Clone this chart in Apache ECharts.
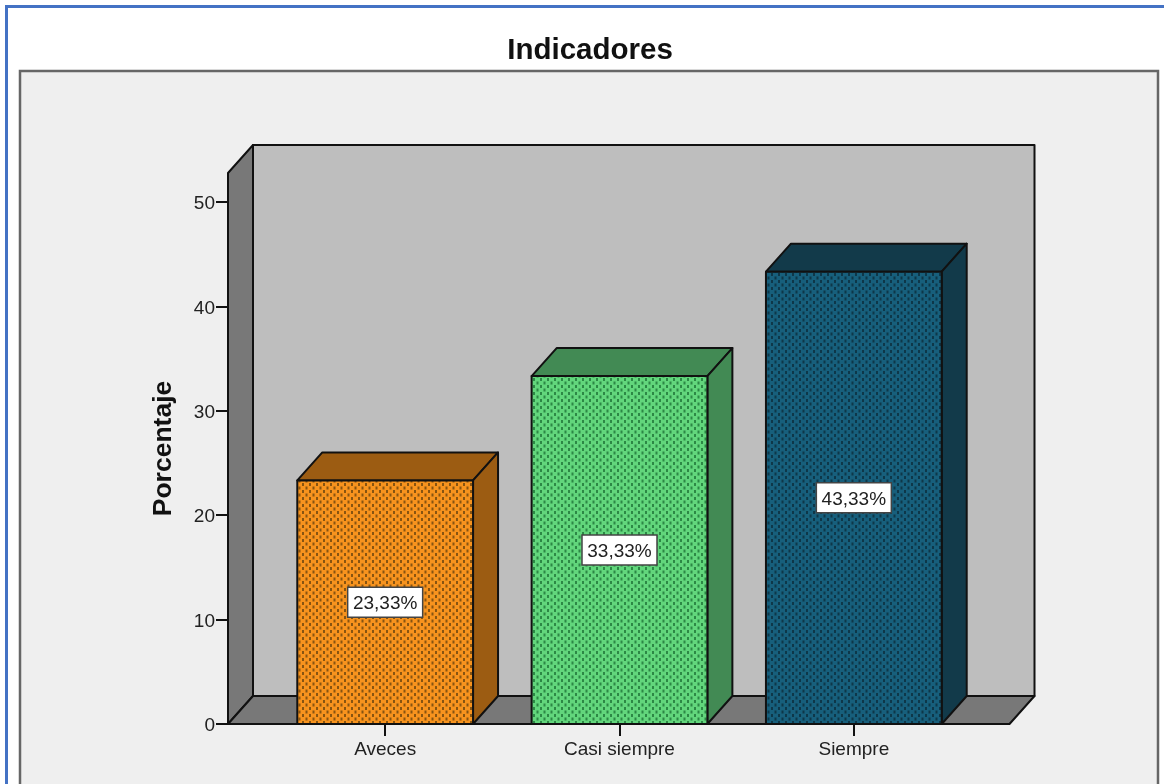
<!DOCTYPE html>
<html lang="es">
<head>
<meta charset="utf-8">
<title>Indicadores</title>
<style>
  html, body { margin: 0; padding: 0; background: #ffffff; }
  #chart { width: 1164px; height: 784px; }
</style>
<script src="https://cdn.jsdelivr.net/npm/echarts@6/dist/echarts.min.js"></script>
</head>
<body>
<div id="chart"></div>
<script>
// Frecuencia de cada respuesta, en porcentaje
const categories = ['Aveces', 'Casi siempre', 'Siempre'];
const values = [23.33, 33.33, 43.33];
const yTicks = [0, 10, 20, 30, 40, 50];
const frontColors = ['#F7931E', '#62D67C', '#175F7C'];
const darkColors = ['#9C5C12', '#428A54', '#123A4A'];
const dotColors = ['#7A4E10', '#27803F', '#0D3344'];

const FONT = '"Liberation Sans", Arial, sans-serif';
const INK = '#111111';
const DEPTH_X = 25, DEPTH_Y = 28;      // profundidad de la caja 3D
const PAD_LEFT = 40, PAD_RIGHT = 38.5; // margen de la caja a cada lado de las categorias
const TAG_W = 75, TAG_H = 30;          // recuadro blanco de la etiqueta

// Trama de puntos al tresbolillo para la cara frontal de las barras
function dotPattern(base, dot) {
  const c = document.createElement('canvas');
  c.width = 7; c.height = 7;
  const g = c.getContext('2d');
  g.fillStyle = base;
  g.fillRect(0, 0, 7, 7);
  g.fillStyle = dot;
  g.globalAlpha = 0.9;
  g.fillRect(1, 0, 2, 3);
  g.fillRect(4.5, 3.5, 2, 3);
  return { image: c, repeat: 'repeat' };
}
const patterns = frontColors.map((c, i) => dotPattern(c, dotColors[i]));

function poly(points, fill) {
  return {
    type: 'polygon',
    shape: { points },
    style: { fill, stroke: INK, lineWidth: 2, lineJoin: 'round' }
  };
}

// Caja de fondo: pared trasera, pared lateral y suelo
function renderBox(params) {
  const s = params.coordSys;
  const l = s.x - PAD_LEFT, r = s.x + s.width + PAD_RIGHT;
  const t = s.y, b = s.y + s.height;
  return {
    type: 'group',
    children: [
      poly([[l + DEPTH_X, t - DEPTH_Y], [r + DEPTH_X, t - DEPTH_Y], [r + DEPTH_X, b - DEPTH_Y], [l + DEPTH_X, b - DEPTH_Y]], '#BEBEBE'),
      poly([[l, t], [l + DEPTH_X, t - DEPTH_Y], [l + DEPTH_X, b - DEPTH_Y], [l, b]], '#787878'),
      poly([[l, b], [l + DEPTH_X, b - DEPTH_Y], [r + DEPTH_X, b - DEPTH_Y], [r, b]], '#787878')
    ]
  };
}

// Barra en prisma con su etiqueta de porcentaje
function renderBar(params, api) {
  const i = api.value(0);
  const v = api.value(1);
  const base = api.coord([i, 0]);
  const top = api.coord([i, v]);
  const w = api.size([1, 0])[0] * 0.75;
  const x0 = base[0] - w / 2, x1 = base[0] + w / 2;
  const yT = top[1], yB = base[1];
  const yMid = (yT + yB) / 2;
  return {
    type: 'group',
    children: [
      poly([[x0, yT], [x0 + DEPTH_X, yT - DEPTH_Y], [x1 + DEPTH_X, yT - DEPTH_Y], [x1, yT]], darkColors[i]),
      poly([[x1, yT], [x1 + DEPTH_X, yT - DEPTH_Y], [x1 + DEPTH_X, yB - DEPTH_Y], [x1, yB]], darkColors[i]),
      poly([[x0, yT], [x1, yT], [x1, yB], [x0, yB]], patterns[i]),
      {
        type: 'rect',
        shape: { x: base[0] - TAG_W / 2, y: yMid - TAG_H / 2, width: TAG_W, height: TAG_H },
        style: { fill: '#ffffff', stroke: '#444444', lineWidth: 1.5 }
      },
      {
        type: 'text',
        style: {
          x: base[0],
          y: yMid + 1.5,
          text: v.toFixed(2).replace('.', ',') + '%',
          align: 'center',
          verticalAlign: 'middle',
          font: '19px ' + FONT,
          fill: '#222222'
        }
      }
    ]
  };
}

const chart = echarts.init(document.getElementById('chart'), null, { renderer: 'canvas' });
chart.setOption({
  animation: false,
  backgroundColor: '#ffffff',
  title: {
    text: 'Indicadores',
    left: 585,
    top: 31,
    textAlign: 'center',
    textStyle: { fontFamily: FONT, fontSize: 29.5, fontWeight: 'bold', color: '#111111' }
  },
  grid: { left: 268, right: 193, top: 173, bottom: 60 },
  xAxis: {
    type: 'category',
    data: categories,
    axisLine: { show: false },
    axisTick: { show: true, alignWithLabel: true, length: 12, lineStyle: { color: INK, width: 2 } },
    axisLabel: { fontFamily: FONT, fontSize: 19, color: '#222222', margin: 16 },
    splitLine: { show: false }
  },
  yAxis: {
    type: 'value',
    min: 0,
    max: 52.78,
    offset: PAD_LEFT,
    name: 'Porcentaje',
    nameLocation: 'middle',
    nameRotate: 90,
    nameGap: 51,
    nameTextStyle: { fontFamily: FONT, fontSize: 26.5, fontWeight: 'bold', color: '#111111' },
    axisLine: { show: false },
    axisTick: { show: true, length: 12, customValues: yTicks, lineStyle: { color: INK, width: 2 } },
    axisLabel: { fontFamily: FONT, fontSize: 19, color: '#222222', margin: 13, verticalAlign: 'top', lineHeight: 4, customValues: yTicks },
    splitLine: { show: false }
  },
  graphic: {
    elements: [
      { type: 'rect', z: -5, silent: true, shape: { x: 20, y: 71, width: 1138, height: 720 },
        style: { fill: '#EFEFEF', stroke: '#666666', lineWidth: 2.5 } },
      { type: 'rect', z: -4, silent: true, shape: { x: 5, y: 5, width: 1159, height: 3 },
        style: { fill: '#4472C4' } },
      { type: 'rect', z: -4, silent: true, shape: { x: 5, y: 5, width: 3, height: 779 },
        style: { fill: '#4472C4' } }
    ]
  },
  series: [
    { type: 'custom', z: 1, clip: false, silent: true, renderItem: renderBox, data: [[0, 0]], encode: { x: 0, y: 1 } },
    { type: 'custom', z: 2, clip: false, silent: true, renderItem: renderBar,
      data: values.map((v, i) => [i, v]), encode: { x: 0, y: 1 } }
  ]
});
</script>
</body>
</html>
